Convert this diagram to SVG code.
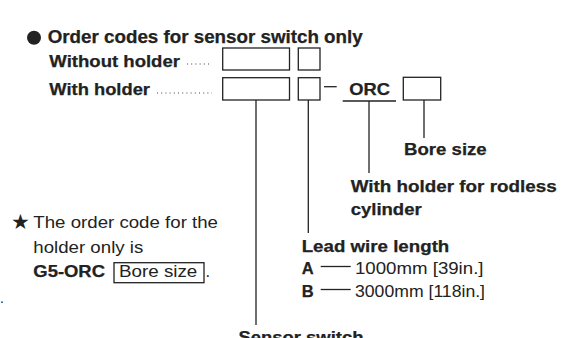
<svg xmlns="http://www.w3.org/2000/svg" width="573" height="338" viewBox="0 0 573 338">
<style>
.b{font-family:"Liberation Sans",Arial,sans-serif;font-weight:bold;fill:#222;stroke:#222;stroke-width:0.25}
.r{font-family:"Liberation Sans",Arial,sans-serif;fill:#222}
.box{fill:#fff;stroke:#222;stroke-width:1.3}
.ln{stroke:#222;stroke-width:1.3;fill:none}
.dot{stroke:#444;stroke-width:1.2;stroke-dasharray:1 3.2;fill:none}
</style>
<rect width="573" height="338" fill="#fff"/>
<g id="title">
<circle cx="34" cy="37.7" r="7" fill="#222"/>
<text class="b" x="47.7" y="43.3" font-size="17.5" textLength="315" lengthAdjust="spacingAndGlyphs">Order codes for sensor switch only</text>
</g>
<g id="row-without">
<text class="b" x="49.3" y="66.7" font-size="16.5" textLength="130.7" lengthAdjust="spacingAndGlyphs">Without holder</text>
<line class="dot" x1="187" y1="64" x2="212" y2="64"/>
<rect class="box" x="222.7" y="48" width="66.8" height="22"/>
<rect class="box" x="298.3" y="48" width="21.7" height="22"/>
</g>
<g id="row-with">
<text class="b" x="49.3" y="95" font-size="16.5" textLength="100.7" lengthAdjust="spacingAndGlyphs">With holder</text>
<line class="dot" x1="157" y1="93" x2="212" y2="93"/>
<rect class="box" x="222.7" y="77.7" width="66.8" height="22.3"/>
<rect class="box" x="298.3" y="77.7" width="21.7" height="22.3"/>
<text class="b" x="349.3" y="95" font-size="16.5" textLength="40.7" lengthAdjust="spacingAndGlyphs">ORC</text>
<rect class="box" x="403.3" y="77.3" width="37.4" height="22.7"/>
</g>
<g id="connectors">
<line class="ln" x1="324" y1="86.7" x2="336.7" y2="86.7"/>
<line class="ln" x1="342.7" y1="101" x2="396" y2="101"/>
<line class="ln" x1="369" y1="101" x2="369" y2="173"/>
<line class="ln" x1="424" y1="100" x2="424" y2="138"/>
<line class="ln" x1="308.3" y1="100" x2="308.3" y2="233"/>
<line class="ln" x1="256" y1="100" x2="256" y2="325"/>
<line class="ln" x1="320.7" y1="266.5" x2="350.7" y2="266.5"/>
<line class="ln" x1="320.7" y1="289.5" x2="350.7" y2="289.5"/>
</g>
<g id="bore-size">
<text class="b" x="404" y="155" font-size="16.5" textLength="82.7" lengthAdjust="spacingAndGlyphs">Bore size</text>
</g>
<g id="with-holder-rodless">
<text class="b" x="350.7" y="191.7" font-size="16.5" textLength="206" lengthAdjust="spacingAndGlyphs">With holder for rodless</text>
<text class="b" x="350.7" y="215" font-size="16.5" textLength="71" lengthAdjust="spacingAndGlyphs">cylinder</text>
</g>
<g id="lead-wire">
<text class="b" x="301.7" y="251.7" font-size="16.5" textLength="147.6" lengthAdjust="spacingAndGlyphs">Lead wire length</text>
<text class="b" x="301.7" y="274" font-size="16.5">A</text>
<text class="r" x="355" y="274.3" font-size="16.5" textLength="128.5" lengthAdjust="spacingAndGlyphs">1000mm [39in.]</text>
<text class="b" x="301.7" y="296.7" font-size="16.5">B</text>
<text class="r" x="355" y="296.7" font-size="16.5" textLength="130" lengthAdjust="spacingAndGlyphs">3000mm [118in.]</text>
</g>
<g id="sensor-switch">
<text class="b" x="238.5" y="342.7" font-size="16.5" textLength="125" lengthAdjust="spacingAndGlyphs">Sensor switch</text>
</g>
<g id="note">
<text x="11" y="229" font-size="21" fill="#222" font-family="DejaVu Sans,sans-serif">★</text>
<text class="r" x="33.3" y="228.3" font-size="16.5" textLength="184.7" lengthAdjust="spacingAndGlyphs">The order code for the</text>
<text class="r" x="33.3" y="253.3" font-size="16.5" textLength="110" lengthAdjust="spacingAndGlyphs">holder only is</text>
<text class="b" x="33.3" y="277.3" font-size="16.5" textLength="71.7" lengthAdjust="spacingAndGlyphs">G5-ORC</text>
<rect class="box" x="114" y="262.7" width="90" height="20" stroke-width="1.1"/>
<text class="r" x="119" y="277.3" font-size="16.5" textLength="78.3" lengthAdjust="spacingAndGlyphs">Bore size</text>
<text class="r" x="205.5" y="277.3" font-size="16.5">.</text>
<text class="r" x="0" y="303" font-size="14">.</text>
</g>
</svg>
